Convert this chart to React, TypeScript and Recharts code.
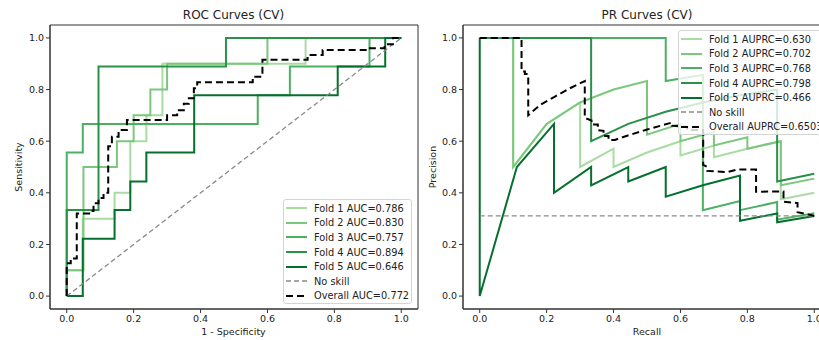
import { LineChart, Line, XAxis, YAxis, ReferenceArea } from "recharts";

const FONT = "DejaVu Sans, sans-serif";
const foldColors = ["#a9dca3", "#7bc77c", "#4bb062", "#2a9149", "#05702e"];
const ticks = [0, 0.2, 0.4, 0.6, 0.8, 1.0];

const rocLabels = ["Fold 1 AUC=0.786", "Fold 2 AUC=0.830", "Fold 3 AUC=0.757", "Fold 4 AUC=0.894", "Fold 5 AUC=0.646"];
const rocOverallLabel = "Overall AUC=0.772";
const prLabels = ["Fold 1 AUPRC=0.630", "Fold 2 AUPRC=0.702", "Fold 3 AUPRC=0.768", "Fold 4 AUPRC=0.798", "Fold 5 AUPRC=0.466"];
const prOverallLabel = "Overall AUPRC=0.6503";
const noSkillPrecision = 0.311;

// ROC curves: [fpr, tpr]
const rocFold1 = [[0, 0], [0, 0.1], [0.048, 0.1], [0.048, 0.3], [0.143, 0.3], [0.143, 0.4], [0.19, 0.4], [0.19, 0.6], [0.238, 0.6], [0.238, 0.7], [0.286, 0.7], [0.286, 0.9], [0.714, 0.9], [0.714, 1], [1, 1]];
const rocFold2 = [[0, 0], [0, 0.1], [0.05, 0.1], [0.05, 0.5], [0.15, 0.5], [0.15, 0.6], [0.2, 0.6], [0.2, 0.7], [0.25, 0.7], [0.25, 0.8], [0.3, 0.8], [0.3, 0.9], [0.6, 0.9], [0.6, 1], [1, 1]];
const rocFold3 = [[0, 0], [0, 0.556], [0.048, 0.556], [0.048, 0.667], [0.571, 0.667], [0.571, 0.778], [0.667, 0.778], [0.667, 0.889], [0.905, 0.889], [0.905, 1], [1, 1]];
const rocFold4 = [[0, 0], [0, 0.333], [0.095, 0.333], [0.095, 0.889], [0.476, 0.889], [0.476, 1], [1, 1]];
const rocFold5 = [[0, 0], [0.048, 0], [0.048, 0.222], [0.143, 0.222], [0.143, 0.333], [0.19, 0.333], [0.19, 0.444], [0.238, 0.444], [0.238, 0.556], [0.381, 0.556], [0.381, 0.778], [0.81, 0.778], [0.81, 0.889], [0.952, 0.889], [0.952, 1], [1, 1]];
const rocOverall = [[0, 0], [0, 0.127], [0.012, 0.127], [0.012, 0.146], [0.03, 0.146], [0.03, 0.32], [0.067, 0.32], [0.067, 0.33], [0.08, 0.33], [0.08, 0.36], [0.095, 0.36], [0.095, 0.38], [0.11, 0.38], [0.11, 0.4], [0.124, 0.4], [0.124, 0.58], [0.135, 0.58], [0.135, 0.617], [0.155, 0.617], [0.155, 0.643], [0.18, 0.643], [0.18, 0.682], [0.3, 0.682], [0.3, 0.7], [0.33, 0.7], [0.33, 0.72], [0.35, 0.72], [0.35, 0.745], [0.365, 0.745], [0.365, 0.766], [0.38, 0.766], [0.38, 0.805], [0.39, 0.805], [0.39, 0.828], [0.556, 0.828], [0.556, 0.85], [0.585, 0.85], [0.585, 0.915], [0.72, 0.915], [0.72, 0.934], [0.765, 0.934], [0.765, 0.953], [0.9, 0.953], [0.9, 0.96], [0.95, 0.96], [0.95, 0.975], [0.975, 0.975], [0.975, 1], [1, 1]];
const rocNoSkill = [[0, 0], [1, 1]];

// PR curves: [recall, precision]
const prFold1 = [[0, 1], [0.1, 1], [0.1, 0.5], [0.2, 0.667], [0.3, 0.75], [0.3, 0.5], [0.4, 0.571], [0.4, 0.5], [0.5, 0.556], [0.6, 0.6], [0.6, 0.545], [0.7, 0.583], [0.7, 0.538], [0.8, 0.571], [0.9, 0.6], [0.9, 0.375], [1, 0.4]];
const prFold2 = [[0, 1], [0.1, 1], [0.1, 0.5], [0.2, 0.667], [0.3, 0.75], [0.4, 0.8], [0.5, 0.833], [0.5, 0.625], [0.6, 0.667], [0.6, 0.6], [0.7, 0.636], [0.7, 0.583], [0.8, 0.615], [0.8, 0.571], [0.9, 0.6], [0.9, 0.429], [1, 0.455]];
const prFold3 = [[0, 1], [0.556, 1], [0.556, 0.833], [0.667, 0.857], [0.667, 0.333], [0.778, 0.368], [0.778, 0.333], [0.889, 0.364], [0.889, 0.296], [1, 0.321]];
const prFold4 = [[0, 1], [0.333, 1], [0.333, 0.6], [0.444, 0.667], [0.556, 0.714], [0.667, 0.75], [0.778, 0.778], [0.889, 0.8], [0.889, 0.444], [1, 0.474]];
const prFold5 = [[0, 1], [0, 0], [0.111, 0.5], [0.222, 0.667], [0.222, 0.4], [0.333, 0.5], [0.333, 0.429], [0.444, 0.5], [0.444, 0.444], [0.556, 0.5], [0.556, 0.385], [0.667, 0.429], [0.778, 0.467], [0.778, 0.292], [0.889, 0.32], [0.889, 0.286], [1, 0.31]];
const prOverall = [[0, 1], [0.125, 1], [0.125, 0.87], [0.135, 0.87], [0.135, 0.86], [0.145, 0.86], [0.145, 0.7], [0.18, 0.74], [0.225, 0.773], [0.27, 0.805], [0.314, 0.833], [0.314, 0.69], [0.334, 0.68], [0.334, 0.665], [0.353, 0.665], [0.353, 0.643], [0.37, 0.64], [0.37, 0.62], [0.385, 0.62], [0.385, 0.605], [0.404, 0.605], [0.45, 0.625], [0.5, 0.645], [0.574, 0.672], [0.574, 0.66], [0.62, 0.655], [0.62, 0.645], [0.668, 0.643], [0.668, 0.508], [0.68, 0.5], [0.68, 0.485], [0.74, 0.48], [0.77, 0.49], [0.826, 0.49], [0.826, 0.404], [0.87, 0.405], [0.908, 0.405], [0.908, 0.366], [0.95, 0.36], [0.95, 0.325], [1, 0.311]];
const prNoSkill = [[0, noSkillPrecision], [1, noSkillPrecision]];

const toPts = (pairs: number[][]) => pairs.map(([x, y]) => ({ x, y }));

const tickStyle = { fill: "#222", fontSize: 9.5, fontFamily: FONT };

function Panel({ left, folds, overall, noSkill }: { left: number; folds: number[][][]; overall: number[][]; noSkill: number[][] }) {
  return (
    <div style={{ position: "absolute", left, top: 0 }}>
      <LineChart width={430} height={340} margin={{ top: 25, right: 12, bottom: 0, left: 0 }}>
        <XAxis
          type="number"
          dataKey="x"
          domain={[-0.05, 1.05]}
          ticks={ticks}
          tickFormatter={(v: number) => v.toFixed(1)}
          allowDataOverflow
          height={31}
          stroke="#333"
          tick={tickStyle}
          tickSize={4}
          tickMargin={2}
        />
        <YAxis
          type="number"
          dataKey="y"
          domain={[-0.05, 1.05]}
          ticks={ticks}
          tickFormatter={(v: number) => v.toFixed(1)}
          allowDataOverflow
          width={50}
          stroke="#333"
          tick={tickStyle}
          tickSize={4}
          tickMargin={2}
        />
        {folds.map((d, i) => (
          <Line key={"f" + i} name={"f" + i} data={toPts(d)} dataKey="y" type="linear" stroke={foldColors[i]} strokeWidth={2} dot={false} activeDot={false} isAnimationActive={false} />
        ))}
        <Line name="noskill" data={toPts(noSkill)} dataKey="y" type="linear" stroke="#8a8a8a" strokeWidth={1.3} strokeDasharray="5 3" dot={false} activeDot={false} isAnimationActive={false} />
        <Line name="overall" data={toPts(overall)} dataKey="y" type="linear" stroke="#000" strokeWidth={2} strokeDasharray="7 4" dot={false} activeDot={false} isAnimationActive={false} />
        <ReferenceArea x1={-0.05} x2={1.05} y1={-0.05} y2={1.05} fill="none" stroke="#333" strokeWidth={1} ifOverflow="visible" />
      </LineChart>
    </div>
  );
}

function Legend({ left, top, width, labels, overallLabel }: { left: number; top: number; width: number; labels: string[]; overallLabel: string }) {
  const rows = [
    ...labels.map((l, i) => ({ label: l, color: foldColors[i], dash: undefined as string | undefined, w: 2 })),
    { label: "No skill", color: "#8a8a8a", dash: "5 3", w: 1.3 },
    { label: overallLabel, color: "#000", dash: "7 4", w: 2 },
  ];
  return (
    <div
      style={{
        position: "absolute",
        left,
        top,
        width,
        height: 105,
        boxSizing: "border-box",
        border: "1px solid #d4d4d4",
        borderRadius: 3,
        background: "rgba(255,255,255,0.8)",
        paddingTop: 1,
        fontFamily: FONT,
        fontSize: 9.8,
        color: "#222",
      }}
    >
      {rows.map((r) => (
        <div key={r.label} style={{ display: "flex", alignItems: "center", height: 14.6, whiteSpace: "nowrap" }}>
          <svg width={21} height={4} style={{ marginLeft: 2, marginRight: 7, flex: "none" }}>
            <line x1={0} y1={2} x2={21} y2={2} stroke={r.color} strokeWidth={r.w} strokeDasharray={r.dash} />
          </svg>
          <span>{r.label}</span>
        </div>
      ))}
    </div>
  );
}

const textBase = { position: "absolute" as const, fontFamily: FONT, color: "#222", textAlign: "center" as const, whiteSpace: "nowrap" as const };

export default function App() {
  return (
    <div style={{ position: "absolute", left: 0, top: 0, width: 819, height: 340, overflow: "hidden", background: "#fff" }}>
      <Panel left={0} folds={[rocFold1, rocFold2, rocFold3, rocFold4, rocFold5]} overall={rocOverall} noSkill={rocNoSkill} />
      <Panel left={413} folds={[prFold1, prFold2, prFold3, prFold4, prFold5]} overall={prOverall} noSkill={prNoSkill} />

      <div style={{ ...textBase, left: 133.5, width: 200, top: 8, fontSize: 12, lineHeight: "14px" }}>ROC Curves (CV)</div>
      <div style={{ ...textBase, left: 547, width: 200, top: 8, fontSize: 12, lineHeight: "14px" }}>PR Curves (CV)</div>

      <div style={{ ...textBase, left: 133.5, width: 200, top: 326, fontSize: 9.5, lineHeight: "12px" }}>1 - Specificity</div>
      <div style={{ ...textBase, left: 547, width: 200, top: 326, fontSize: 9.5, lineHeight: "12px" }}>Recall</div>
      <div style={{ ...textBase, left: 19 - 50, width: 100, top: 161, fontSize: 9.5, lineHeight: "12px", transform: "rotate(-90deg)" }}>Sensitivity</div>
      <div style={{ ...textBase, left: 433 - 50, width: 100, top: 161, fontSize: 9.5, lineHeight: "12px", transform: "rotate(-90deg)" }}>Precision</div>

      <Legend left={283} top={199} width={129} labels={rocLabels} overallLabel={rocOverallLabel} />
      <Legend left={678} top={30} width={160} labels={prLabels} overallLabel={prOverallLabel} />
    </div>
  );
}
